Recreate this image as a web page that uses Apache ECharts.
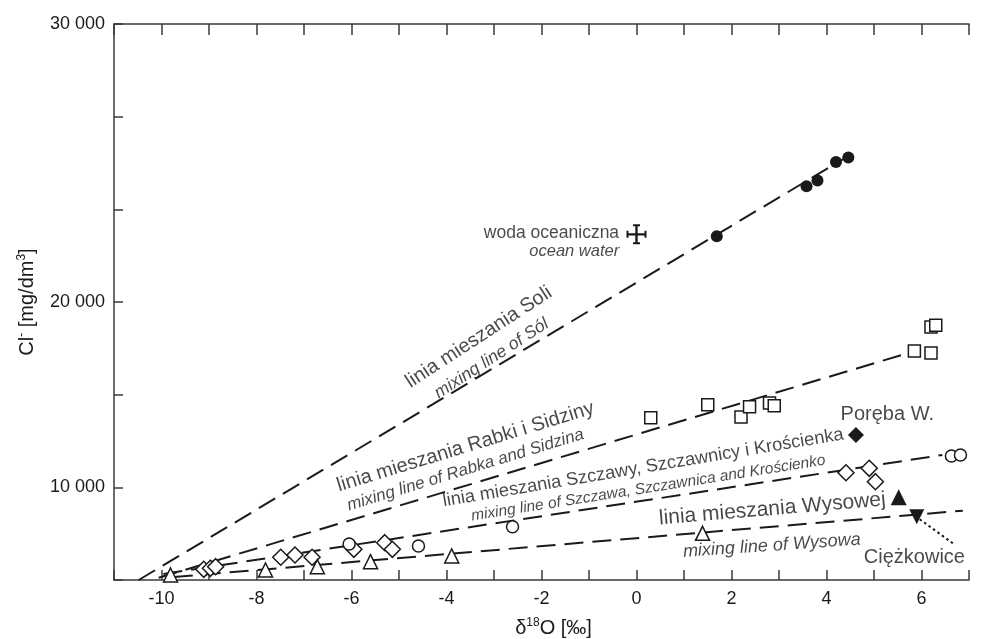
<!DOCTYPE html>
<html><head><meta charset="utf-8">
<script src="https://cdn.jsdelivr.net/npm/echarts@6/dist/echarts.min.js"></script>
<style>html,body{margin:0;padding:0;background:#fff}#c{width:982px;height:639px}</style>
</head><body><div id="c"></div><script>
const FONT = '"Liberation Sans", Arial, sans-serif';
const INK = '#1a1a1a';
// The vertical axis of the original has equally spaced ticks (steps 0..6) labelled 10 000 / 20 000 / 30 000 at steps 1, 3, 6
const yTickLabels = {1: '10 000', 3: '20 000', 6: '30 000'};

const solPoints = [[1.69, 3.71], [3.58, 4.25], [3.81, 4.31], [4.20, 4.51], [4.46, 4.56]];
const oceanWater = [[0, 3.73]];
const rabkaSquares = [[0.30, 1.75], [1.50, 1.89], [2.20, 1.76], [2.38, 1.87], [2.80, 1.91], [2.90, 1.88], [5.85, 2.47], [6.20, 2.45], [6.20, 2.73], [6.30, 2.75]];
const szczawaDiamonds = [[-9.11, 0.115], [-8.97, 0.126], [-8.86, 0.144], [-7.49, 0.245], [-7.19, 0.27], [-6.83, 0.245], [-5.95, 0.331], [-5.30, 0.403], [-5.14, 0.331], [4.41, 1.158], [4.90, 1.205], [5.03, 1.061]];
const szczawaCircles = [[-6.05, 0.388], [-4.59, 0.367], [-2.61, 0.575], [6.63, 1.338], [6.82, 1.349]];
const wysowaTriangles = [[-9.81, 0.054], [-7.81, 0.108], [-6.72, 0.144], [-5.60, 0.198], [-3.89, 0.259], [1.39, 0.504], [7.01, 0.763]];
const porebaPoint = [[4.62, 1.565]];
const wysowaFilled = [[5.52, 0.892]];
const ciezkowicePoint = [[5.90, 0.683]];

const solLine = [[-10.48, 0], [4.67, 4.64]];
const rabkaLine = [[-10.06, 0.024], [5.75, 2.454]];
const szczawaLine = [[-9.96, 0.065], [6.44, 1.349]];
const wysowaLine = [[-9.74, 0.032], [6.87, 0.748]];
const ciezkowiceArrow = [[6.66, 0.396], [5.95, 0.66]];

const annotations = [
  {text: 'woda oceaniczna', pos: [-1.79, 3.744], rot: 0, size: 17.5, italic: false},
  {text: 'ocean water', pos: [-1.31, 3.55], rot: 0, size: 16.5, italic: true},
  {text: 'linia mieszania Soli', pos: [-3.32, 2.62], rot: 33, size: 20, italic: false},
  {text: 'mixing line of Sól', pos: [-3.05, 2.39], rot: 33, size: 17.5, italic: true},
  {text: 'linia mieszania Rabki i Sidziny', pos: [-3.60, 1.435], rot: 17, size: 20, italic: false},
  {text: 'mixing line of Rabka and Sidzina', pos: [-3.60, 1.187], rot: 17, size: 17, italic: true},
  {text: 'linia mieszania Szczawy, Szczawnicy i Krościenka', pos: [0.14, 1.21], rot: 9.5, size: 18.3, italic: false},
  {text: 'mixing line of Szczawa, Szczawnica and Krościenko', pos: [0.25, 0.99], rot: 9, size: 15.5, italic: true},
  {text: 'linia mieszania Wysowej', pos: [2.86, 0.765], rot: 4.8, size: 21, italic: false},
  {text: 'mixing line of Wysowa', pos: [2.85, 0.37], rot: 4, size: 18, italic: true},
  {text: 'Poręba W.', pos: [5.28, 1.781], rot: 0, size: 20, italic: false},
  {text: 'Ciężkowice', pos: [5.85, 0.248], rot: 0, size: 20, italic: false}
];

const crossPath = 'path://M0,8.8 H20 V11.2 H0 Z M8.8,0 H11.2 V20 H8.8 Z M0,6.5 H2 V13.5 H0 Z M18,6.5 H20 V13.5 H18 Z M6.5,0 H13.5 V2 H6.5 Z M6.5,18 H13.5 V20 H6.5 Z';

function dashed(data) {
  return {type: 'line', data: data, symbol: 'none', silent: true, z: 2,
    lineStyle: {color: INK, width: 2, type: [19, 9]}};
}
function openMarks(data, symbol, size) {
  return {type: 'scatter', data: data, symbol: symbol, symbolSize: size, z: 5,
    itemStyle: {color: '#fff', borderColor: INK, borderWidth: 1.5, opacity: 1}};
}
function filledMarks(data, symbol, size, rotate) {
  return {type: 'scatter', data: data, symbol: symbol, symbolSize: size, symbolRotate: rotate || 0, z: 5,
    itemStyle: {color: INK, opacity: 1}};
}

const annotationSeries = {
  type: 'scatter', symbolSize: 1, z: 10, silent: true,
  itemStyle: {color: 'rgba(0,0,0,0)'},
  data: annotations.map(a => ({
    value: a.pos,
    label: {show: true, position: 'inside', formatter: a.text, rotate: a.rot,
      fontSize: a.size, fontStyle: a.italic ? 'italic' : 'normal', color: INK, fontFamily: FONT}
  }))
};

const option = {
  animation: false,
  backgroundColor: '#fff',
  grid: {left: 114, right: 13, top: 24, bottom: 59, containLabel: false, outerBoundsMode: 'none'},
  xAxis: [
    {type: 'value', min: -11, max: 7, interval: 1, position: 'bottom',
      name: '{n|δ}{s|18}{n|O [‰]}', nameLocation: 'middle', nameGap: 37,
      nameTextStyle: {padding: [0, 0, 0, 24], rich: {n: {fontSize: 20, fontFamily: FONT, color: INK},
        s: {fontSize: 12, fontFamily: FONT, color: INK, padding: [0, 0, 11, 0]}}},
      axisLine: {onZero: false, lineStyle: {color: '#3a3a3a', width: 1.5}},
      axisTick: {inside: true, length: 10, lineStyle: {color: '#3a3a3a', width: 1.5}},
      axisLabel: {margin: 10, fontSize: 18, fontFamily: FONT, color: INK,
        formatter: v => (v % 2 === 0 ? String(v) : '')},
      splitLine: {show: false}},
    {type: 'value', min: -11, max: 7, interval: 1, position: 'top',
      axisLine: {onZero: false, lineStyle: {color: '#3a3a3a', width: 1.5}},
      axisTick: {inside: true, length: 11, lineStyle: {color: '#3a3a3a', width: 1.5}},
      axisLabel: {show: false}, splitLine: {show: false}}
  ],
  yAxis: {type: 'value', min: 0, max: 6, interval: 1,
    name: '{n|Cl}{s|-}{n| [mg/dm}{s|3}{n|]}', nameLocation: 'middle', nameRotate: 90, nameGap: 75,
    nameTextStyle: {rich: {n: {fontSize: 20, fontFamily: FONT, color: INK},
      s: {fontSize: 12, fontFamily: FONT, color: INK, padding: [0, 0, 11, 0]}}},
    axisLine: {show: true, onZero: false, lineStyle: {color: '#3a3a3a', width: 1.5}},
    axisTick: {inside: true, length: 9, lineStyle: {color: '#3a3a3a', width: 1.5}},
    axisLabel: {margin: 9, fontSize: 18, fontFamily: FONT, color: INK,
      formatter: v => yTickLabels[v] || ''},
    splitLine: {show: false}},
  series: [
    dashed(solLine), dashed(rabkaLine), dashed(szczawaLine), dashed(wysowaLine),
    {type: 'line', data: ciezkowiceArrow, symbol: 'none', silent: true, z: 3,
      lineStyle: {color: INK, width: 2, type: [2.5, 3]}},
    filledMarks(solPoints, 'circle', 12),
    {type: 'scatter', data: oceanWater, symbol: crossPath, symbolSize: 20, z: 5, itemStyle: {color: INK, opacity: 1}},
    openMarks(rabkaSquares, 'rect', 12),
    openMarks(szczawaDiamonds, 'diamond', 16),
    openMarks(szczawaCircles, 'circle', 12),
    openMarks(wysowaTriangles, 'triangle', 14),
    filledMarks(porebaPoint, 'diamond', 16),
    filledMarks(wysowaFilled, 'triangle', 16),
    filledMarks(ciezkowicePoint, 'triangle', 15, 180),
    annotationSeries
  ]
};
echarts.init(document.getElementById('c')).setOption(option);
</script></body></html>
